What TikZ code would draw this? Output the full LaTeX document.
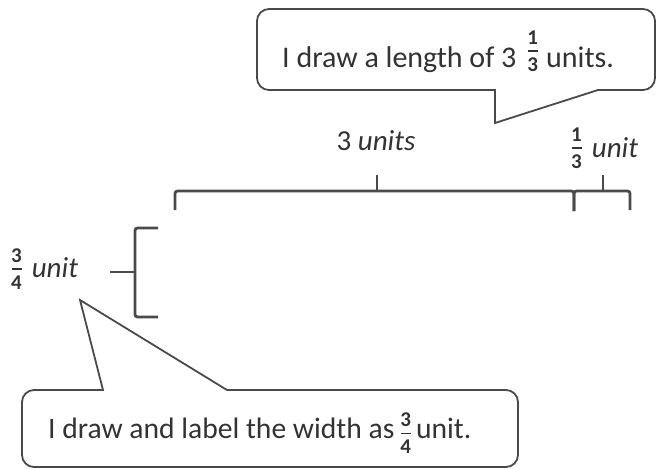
\documentclass[tikz,border=0pt]{standalone}
\usepackage{fontspec}
\setmainfont{Carlito}
\definecolor{ink}{HTML}{4A4A4A}
\definecolor{txt}{HTML}{333333}
% fraction: numerator, denominator, raise of the box (bar sits on the math axis + raise)
\newcommand\myfr[3]{\raisebox{#3}{$\vcenter{\offinterlineskip\halign{\hfil##\hfil\cr\fontsize{21}{21}\selectfont\bfseries #1\cr\noalign{\kern5.5pt}\rule{10pt}{1.8pt}\cr\noalign{\kern5.5pt}\fontsize{21}{21}\selectfont\bfseries #2\cr}}$}}
\tikzset{
  line/.style={draw=ink, line width=2.8pt, rounded corners=2.5pt},
  callout/.style={draw=ink, line width=1.8pt, fill=white},
  lbl/.style={text=txt, font=\fontsize{29}{31}\selectfont, inner sep=0pt},
  ctext/.style={text=txt, font=\fontsize{30}{32}\selectfont, inner sep=0pt, anchor=base west}
}
\begin{document}
\begin{tikzpicture}[x=1pt,y=-1pt]
\useasboundingbox (0,0) rectangle (657,469);
% top callout
\draw[callout] (495,90) -- (495,123) -- (598,90) [rounded corners=12pt] -- (655,90) -- (655,9) -- (257,9) -- (257,90) [sharp corners] -- cycle;
\node[ctext] (t1) at (282,67) {I draw a length of 3\hspace{11pt}\myfr{1}{3}{9.5pt}\hspace{8pt}units.};
% bottom callout
\draw[callout] (103,390) -- (80,300) -- (227,390) [rounded corners=12pt] -- (518,390) -- (518,467) -- (22,467) -- (22,390) [sharp corners] -- cycle;
\node[ctext, font=\fontsize{29.6}{32}\selectfont] (t2) at (48,438) {I draw and label the width as\hspace{6pt}\myfr{3}{4}{-1.5pt}\hspace{5pt}unit.};
% top braces
\coordinate (aL) at (175,210);
\coordinate (aM) at (377,191);
\coordinate (aT) at (377,175);
\coordinate (aR) at (574,211);
\coordinate (bM) at (603,191);
\coordinate (bT) at (603,175);
\coordinate (bR) at (630,210);
\draw[line] (aL) |- (aM) -| (aR);
\draw[line, rounded corners=0pt] (aM) -- (aT);
\draw[line] (aR) |- (bM) -| (bR);
\draw[line, rounded corners=0pt] (bM) -- (bT);
% left brace
\coordinate (cT) at (158,228);
\coordinate (cB) at (158,317);
\coordinate (cM) at (135,272);
\coordinate (cK) at (110,272);
\draw[line] (cT) -| (cM) |- (cB);
\draw[line, rounded corners=0pt] (cM) -- (cK);
% labels
\node[lbl, anchor=base] (l1) at (376,150) {3 \textit{units}};
\node[lbl, anchor=base west] (l2) at (571,157) {\myfr{1}{3}{2.75pt}\hspace{10pt}\textit{unit}};
\node[lbl, anchor=base west] (l3) at (11,277) {\myfr{3}{4}{1.75pt}\hspace{10pt}\textit{unit}};
\end{tikzpicture}
\end{document}
